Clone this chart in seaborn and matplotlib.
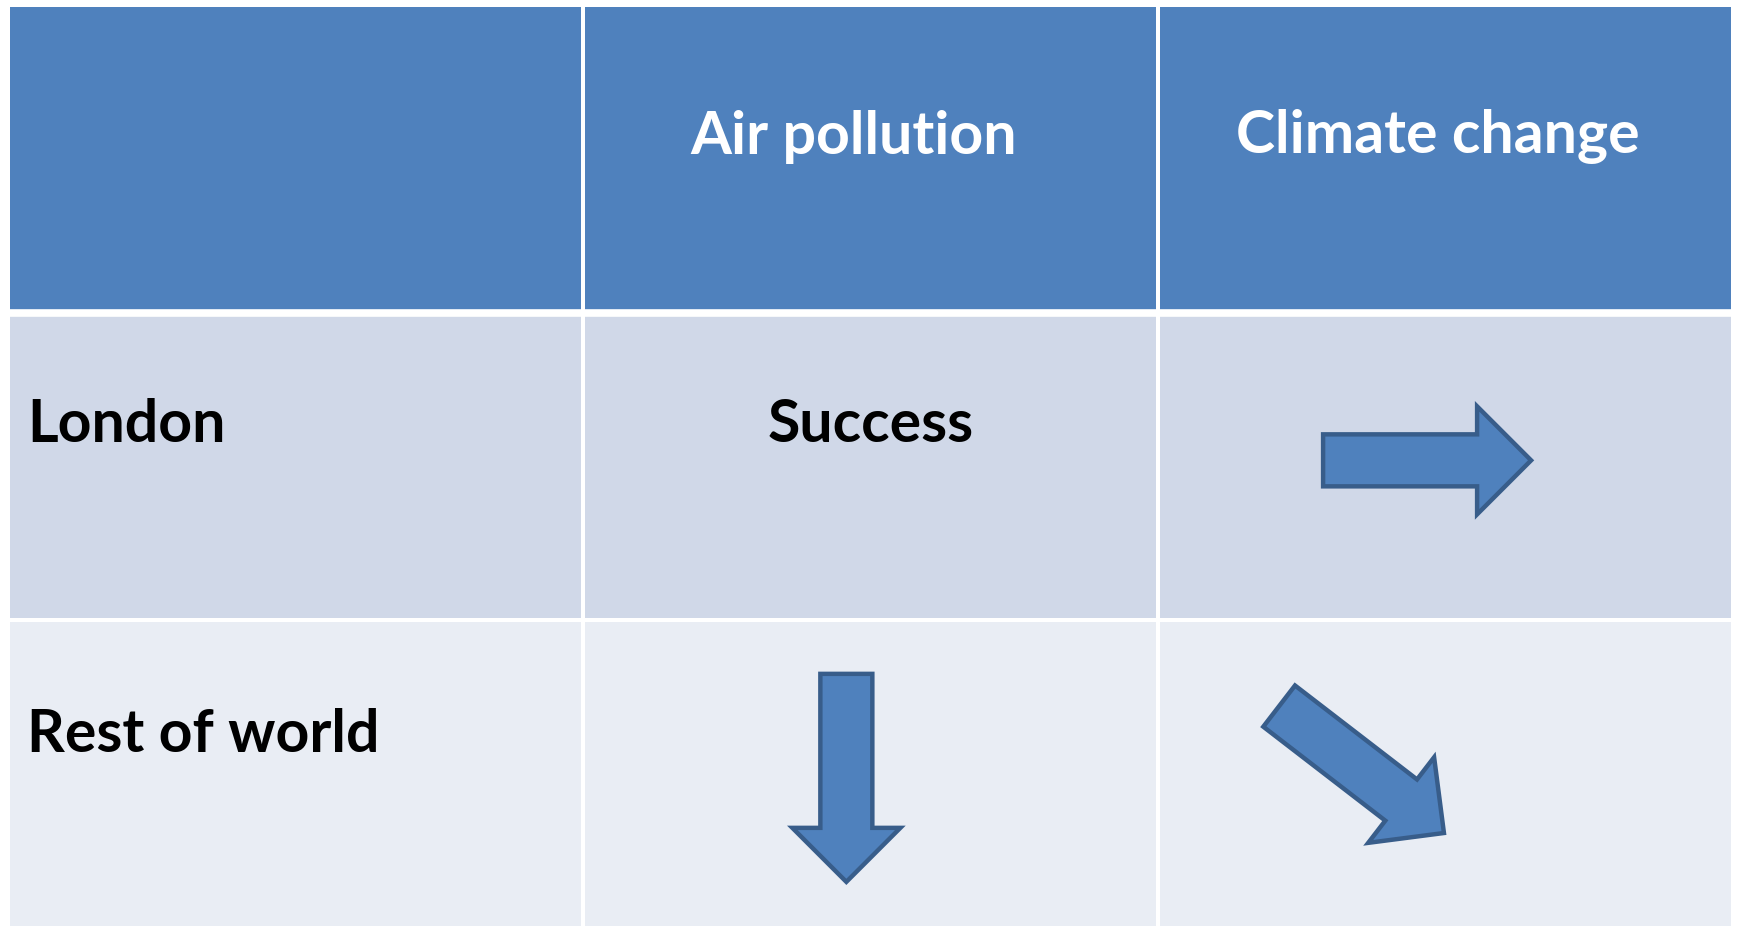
import numpy as np
import matplotlib.pyplot as plt
from matplotlib.colors import ListedColormap
from matplotlib.patches import Polygon
import seaborn as sns

# table content
columns = ["", "Air pollution", "Climate change"]
rows = ["London", "Rest of world"]
cell_text = {("London", "Air pollution"): "Success"}
# trend arrows: (row, column, angle in degrees, 0 = pointing right)
arrows = [("London", "Climate change", 0),
          ("Rest of world", "Air pollution", -90),
          ("Rest of world", "Climate change", -37.6)]
# where each arrow sits inside its cell (fraction of the cell)
arrow_pos = {("London", "Climate change"): (0.468, 0.480),
             ("Rest of world", "Air pollution"): (0.458, 0.512),
             ("Rest of world", "Climate change"): (0.354, 0.485)}

header_blue = "#4F81BD"
row_colors = [header_blue, "#D0D8E8", "#E9EDF4"]
arrow_edge = "#385D8A"

W, H = 1739, 929
fig = plt.figure(figsize=(W / 100, H / 100), dpi=100)
ax = fig.add_axes([8 / W, 0, (1733 - 8) / W, 1 - 6 / H])

shade = np.array([[0, 0, 0], [1, 1, 1], [2, 2, 2]])
sns.heatmap(shade, ax=ax, cmap=ListedColormap(row_colors), cbar=False,
            linewidths=1.6, linecolor="white", vmin=-0.5, vmax=2.5)
ax.axhline(1, color="white", lw=5.5)
ax.set_xticks([])
ax.set_yticks([])

font = "Lato"
fs = 42.5
# header
for j, name in enumerate(columns):
    if name:
        ax.text(j + 0.47 if j == 1 else j + 0.487, 0.425, name, color="white",
                fontsize=fs, fontweight="bold", family=font,
                ha="center", va="center")
# row labels
for i, name in enumerate(rows):
    ax.text(0.033, i + 1.363 + 0.008 * i, name, color="black", fontsize=fs,
            fontweight="bold", family=font, ha="left", va="center")
for (r, c), txt in cell_text.items():
    ax.text(columns.index(c) + 0.5, rows.index(r) + 1.363, txt, color="black",
            fontsize=fs, fontweight="bold", family=font, ha="center", va="center")

# arrow shape in pixels
length, shaft_w, head_w, head_l = 208, 52, 108, 54
col_px = (1733 - 8) / 3
row_px = (H - 6) / 3
base = np.array([
    [-length / 2, -shaft_w / 2], [length / 2 - head_l, -shaft_w / 2],
    [length / 2 - head_l, -head_w / 2], [length / 2, 0],
    [length / 2 - head_l, head_w / 2], [length / 2 - head_l, shaft_w / 2],
    [-length / 2, shaft_w / 2]])
for r, c, ang in arrows:
    t = np.deg2rad(ang)
    rot = np.array([[np.cos(t), -np.sin(t)], [np.sin(t), np.cos(t)]])
    pts = base @ rot.T
    fx, fy = arrow_pos[(r, c)]
    cx = columns.index(c) + fx
    cy = rows.index(r) + 1 + fy
    xy = np.column_stack([cx + pts[:, 0] / col_px, cy - pts[:, 1] / row_px])
    ax.add_patch(Polygon(xy, closed=True, facecolor=header_blue,
                         edgecolor=arrow_edge, lw=3.2, zorder=5))

fig.savefig("out.png", dpi=100)
